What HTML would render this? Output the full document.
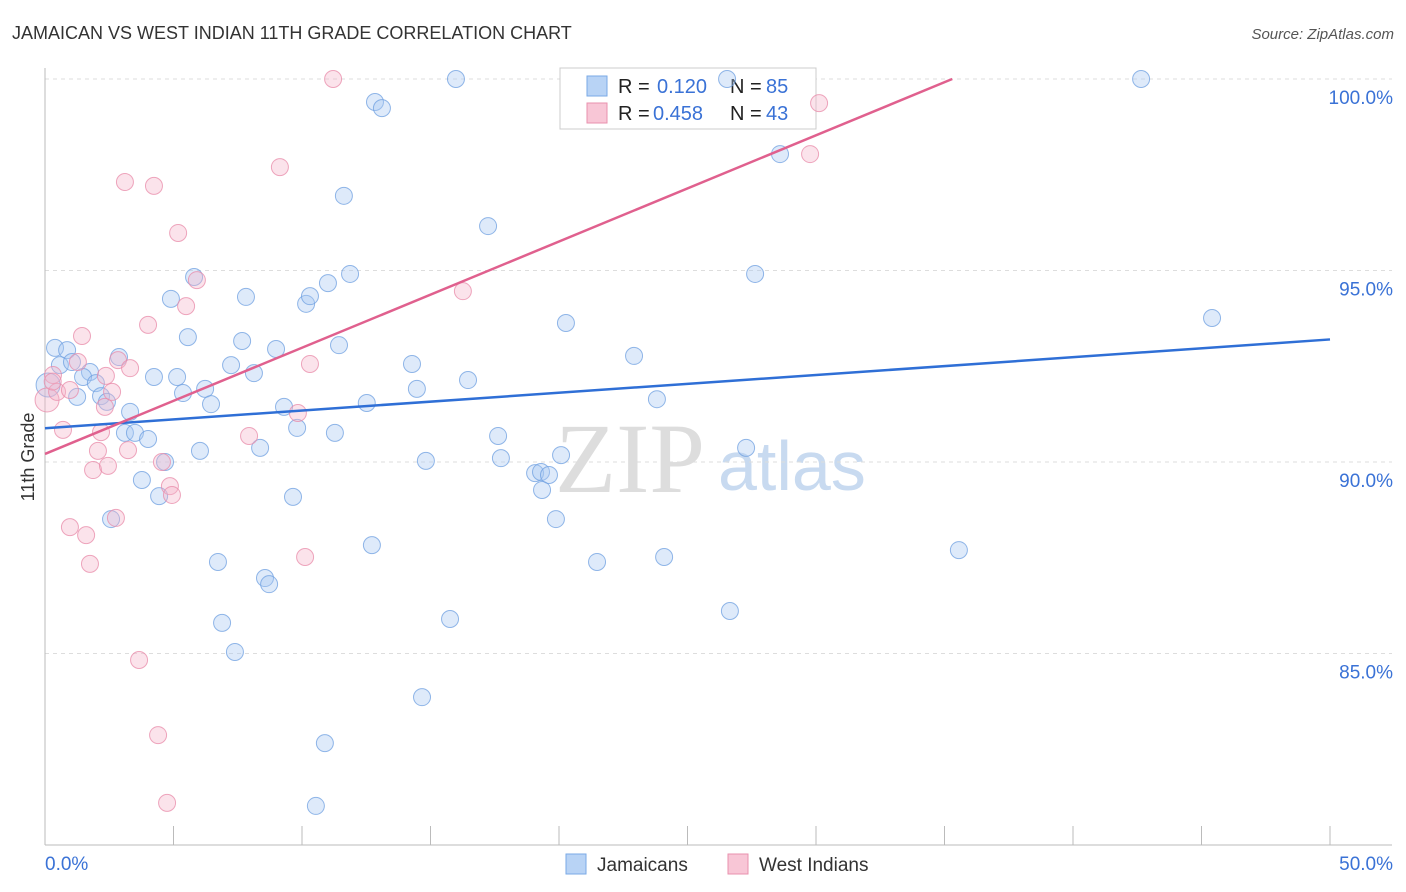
<!DOCTYPE html>
<html><head><meta charset="utf-8"><style>
body{margin:0;background:#fff;font-family:"Liberation Sans",sans-serif;}
svg{display:block}
</style></head><body>
<svg id="chart" width="1406" height="892">
<text x="12" y="39" font-size="18" fill="#333">JAMAICAN VS WEST INDIAN 11TH GRADE CORRELATION CHART</text>
<text x="1394" y="39" font-size="15" fill="#555" font-style="italic" text-anchor="end">Source: ZipAtlas.com</text>
<g>
<text x="555" y="492" font-size="100" font-family="Liberation Serif,serif" fill="#ddd">ZIP</text>
<text x="718" y="490" font-size="70" fill="#c8daf0">atlas</text>
</g>
<text transform="translate(34,457) rotate(-90)" font-size="18" fill="#333" text-anchor="middle">11th Grade</text>
<g id="grid"></g>
<g id="axes"></g>
<g>
<rect x="560" y="68" width="256" height="61" fill="#fff" stroke="#ccc"/>
<rect x="587" y="76" width="20" height="20" fill="#b8d3f5" stroke="#7aaae6"/>
<text x="618" y="93" font-size="20" fill="#222">R = </text><text x="657" y="93" font-size="20" fill="#3a72d6">0.120</text>
<text x="730" y="93" font-size="20" fill="#222">N = </text><text x="766" y="93" font-size="20" fill="#3a72d6">85</text>
<rect x="587" y="103" width="20" height="20" fill="#f8c6d6" stroke="#e990ae"/>
<text x="618" y="120" font-size="20" fill="#222">R = </text><text x="653" y="120" font-size="20" fill="#3a72d6">0.458</text>
<text x="730" y="120" font-size="20" fill="#222">N = </text><text x="766" y="120" font-size="20" fill="#3a72d6">43</text>
</g>
<g id="pts"></g>
<g id="trends"></g>
<g>
<rect x="566" y="854" width="20" height="20" fill="#b8d3f5" stroke="#7aaae6"/>
<text x="597" y="871" font-size="19" fill="#333">Jamaicans</text>
<rect x="728" y="854" width="20" height="20" fill="#f8c6d6" stroke="#e990ae"/>
<text x="759" y="871" font-size="19" fill="#333">West Indians</text>
</g>
</svg>
<script>
const xTicks=[0,5,10,15,20,25,30,35,40,45,50];
const yTicks=[85,90,95,100];
const yTickLabels=["85.0%","90.0%","95.0%","100.0%"];
const jamX=[0.39,0.86,0.58,1.05,1.75,1.48,1.98,2.18,1.25,2.41,3.31,3.11,3.50,4.01,2.88,4.24,5.14,5.37,5.56,4.90,5.80,6.23,6.46,6.03,4.67,3.77,4.44,2.57,7.24,7.67,7.82,8.13,8.99,8.37,9.30,9.81,10.16,10.31,11.01,11.87,11.63,11.44,11.28,12.52,9.65,6.73,6.89,7.39,8.56,8.72,12.72,10.89,10.54,12.84,13.11,15.99,14.28,14.47,14.82,16.46,15.76,14.67,17.24,17.63,17.74,19.07,19.30,19.61,19.34,20.08,19.88,20.27,21.48,22.92,23.81,24.09,26.54,26.65,27.28,27.63,28.60,35.56,42.65,45.41,0.12];
const jamY=[92.98,92.92,92.53,92.61,92.35,92.22,92.06,91.72,91.70,91.57,91.31,90.76,90.76,90.60,92.74,92.22,92.22,91.80,93.26,94.26,94.83,91.91,91.51,90.29,90.0,89.53,89.11,88.51,92.53,93.16,94.31,92.32,92.95,90.37,91.44,90.89,94.13,94.33,94.67,94.91,96.95,93.05,90.76,91.54,89.09,87.39,85.80,85.04,86.97,86.81,87.83,82.66,81.02,99.40,99.24,100,92.56,91.91,90.03,92.14,85.90,83.86,96.16,90.68,90.10,89.71,89.74,89.66,89.27,90.18,88.51,93.63,87.39,92.77,91.64,87.52,100,86.11,90.37,94.91,98.04,87.70,100,93.76,92.01];
const wiX=[0.08,0.31,0.47,0.97,1.28,1.44,0.70,2.18,2.06,1.87,2.45,2.33,2.61,2.84,3.31,3.23,4.01,3.11,4.24,5.18,5.49,5.91,4.55,4.86,4.94,0.97,1.60,1.75,2.76,3.66,4.40,4.75,7.94,9.14,10.31,9.84,10.12,11.21,16.26,29.77,30.12,0.3,2.37];
const wiY=[91.62,92.27,91.83,91.88,92.61,93.29,90.84,90.78,90.29,89.79,89.90,91.44,91.83,92.66,92.45,90.31,93.58,97.31,97.21,95.98,94.07,94.75,90.0,89.37,89.14,88.30,88.09,87.34,88.54,84.83,82.87,81.10,90.68,97.70,92.56,91.28,87.52,100,94.46,98.04,99.37,92.1,92.25];
const jamTrendX=[0,50], jamTrendY=[90.88,93.2];
const wiTrendX=[0,35.3], wiTrendY=[90.21,100];

const X0=45,X1=1330,Y100=79,PXPER=38.3;
const xs=v=>X0+(X1-X0)*v/50;
const ys=v=>Y100+(100-v)*PXPER;
const NS="http://www.w3.org/2000/svg";
function mk(tag,attrs,parent){const e=document.createElementNS(NS,tag);for(const k in attrs)e.setAttribute(k,attrs[k]);parent.appendChild(e);return e;}
const grid=document.getElementById('grid'),axes=document.getElementById('axes'),pts=document.getElementById('pts'),tr=document.getElementById('trends');
yTicks.forEach((t,i)=>{
 const l=mk('line',{x1:X0,x2:1392,y1:ys(t),y2:ys(t),stroke:'#ddd','stroke-dasharray':'4,4'},grid);
 
 
 const tx=mk('text',{x:1393,y:ys(t)+25,'font-size':19,fill:'#3a72d6','text-anchor':'end'},axes);
 tx.textContent=yTickLabels[i];
 
 
});
const ax=mk('line',{x1:X0,x2:X0,y1:68,y2:845,stroke:'#bbb'},axes);


const bx=mk('line',{x1:X0,x2:1392,y1:845,y2:845,stroke:'#bbb'},axes);


xTicks.forEach(t=>{
 const l=mk('line',{x1:xs(t),x2:xs(t),y1:826,y2:845,stroke:'#bbb'},axes);
 
 
});
const xl0=mk('text',{x:45,y:870,'font-size':19,fill:'#3a72d6'},axes);xl0.textContent='0.0%';


const xl1=mk('text',{x:1393,y:870,'font-size':19,fill:'#3a72d6','text-anchor':'end'},axes);xl1.textContent='50.0%';


function dots(X,Y,fill,stroke,name){X.forEach((x,i)=>{
 const r=(x<0.2)?12:8.5;
 const c=mk('circle',{cx:xs(x),cy:ys(Y[i]),r:r,fill:fill,'fill-opacity':0.38,stroke:stroke,'stroke-opacity':0.75,'stroke-width':1},pts);
 
 
});}
dots(jamX,jamY,'#a9c8f2','#6e9fe0','jamaican-point');
dots(wiX,wiY,'#f5b5ca','#e88aa8','west-indian-point');
const l1=mk('line',{x1:xs(jamTrendX[0]),y1:ys(jamTrendY[0]),x2:xs(jamTrendX[1]),y2:ys(jamTrendY[1]),stroke:'#2f6fd6','stroke-width':2.5},tr);


const l2=mk('line',{x1:xs(wiTrendX[0]),y1:ys(wiTrendY[0]),x2:xs(wiTrendX[1]),y2:ys(wiTrendY[1]),stroke:'#e0608e','stroke-width':2.5},tr);


</script>
</body></html>
